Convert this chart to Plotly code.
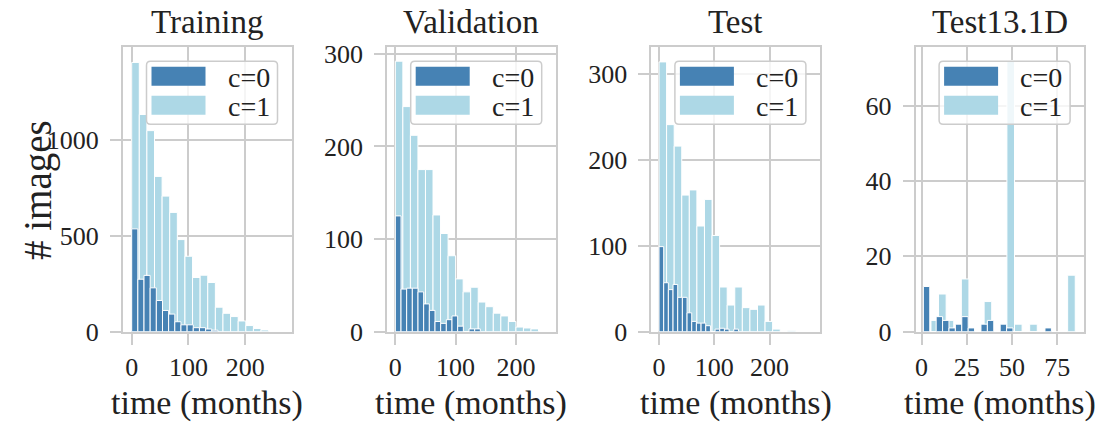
import numpy as np
import plotly.graph_objects as go

# ---------------- data ----------------
panel_titles = ["Training", "Validation", "Test", "Test13.1D"]
class_names = ["c=0", "c=1"]

# Training
train_c0_start, train_c0_width = 0.0, 10.85
train_c0_counts = [537, 274, 294, 229, 163, 111, 92, 52, 36, 36, 21, 21, 14, 8]
train_c1_start, train_c1_width = 0.0, 13.4
train_c1_counts = [1406, 1134, 1050, 811, 708, 623, 481, 394, 283, 295, 257, 128, 96, 79, 56, 32, 17, 9]

# Validation
val_c0_start, val_c0_width = 0.0, 9.4
val_c0_counts = [125, 46, 47, 47, 43, 30, 23, 11, 9, 13, 17, 6, 0, 3, 3]
val_c1_start, val_c1_width = 0.0, 12.5
val_c1_counts = [292, 243, 212, 175, 175, 126, 106, 82, 57, 43, 48, 32, 27, 20, 17, 11, 5, 4, 3]

# Test
test_c0_start, test_c0_width = 0.0, 8.45
test_c0_counts = [99, 57, 49, 55, 40, 40, 22, 12, 10, 10, 7, 0, 3, 4, 3, 0, 3]
test_c1_start, test_c1_width = 0.0, 13.7
test_c1_counts = [314, 241, 216, 159, 165, 123, 154, 112, 52, 31, 52, 28, 26, 31, 12, 3, 0, 1]

# Test13.1D
t13_c0_start, t13_c0_width = 1.0, 3.54
t13_c0_counts = [12, 0, 4, 3, 1, 2, 4, 1, 0, 2, 3, 0, 2, 1, 0, 0, 0, 0, 0, 1]
t13_c1_start, t13_c1_width = 1.0, 4.2
t13_c1_counts = [0, 3, 10, 3, 0, 14, 0, 0, 8, 0, 0, 72, 2, 0, 2, 0, 0, 0, 0, 15]

x_tickvals = [[0, 100, 200], [0, 100, 200], [0, 100, 200], [0, 25, 50, 75]]
y_tickvals = [[0, 500, 1000], [0, 100, 200, 300], [0, 100, 200, 300], [0, 20, 40, 60]]
x_ranges = [[-15.3, 281.5], [-13.5, 266.0], [-13.8, 291.0], [-3.3, 89.9]]
y_ranges = [[0, 1485], [0, 307], [0, 331], [0, 75.5]]

x_label = "time (months)"
y_label = "# images"

panels = [
    ((train_c0_start, train_c0_width, train_c0_counts), (train_c1_start, train_c1_width, train_c1_counts)),
    ((val_c0_start, val_c0_width, val_c0_counts), (val_c1_start, val_c1_width, val_c1_counts)),
    ((test_c0_start, test_c0_width, test_c0_counts), (test_c1_start, test_c1_width, test_c1_counts)),
    ((t13_c0_start, t13_c0_width, t13_c0_counts), (t13_c1_start, t13_c1_width, t13_c1_counts)),
]

# ---------------- styling / layout ----------------
W, H = 1100, 424
DARK = "#4682b4"
LIGHT = "#add8e6"
GRID = "#cccccc"
TXT = "#222222"
FONT = "Liberation Serif"

lefts = [123.0, 387.2, 651.4, 915.6]
pw = 168.5
top_px, bot_px = 47.3, 331.7


def px(x):
    return x / W


def py(y):
    return 1 - y / H


fig = go.Figure()
layout = dict(
    template="none",
    width=W, height=H, autosize=False,
    margin=dict(l=0, r=0, t=0, b=0, pad=0, autoexpand=False),
    paper_bgcolor="white", plot_bgcolor="white",
    barmode="overlay", showlegend=False,
    font=dict(family=FONT, color=TXT),
)

annotations = []
shapes = []

for i, (c0, c1) in enumerate(panels):
    xa = "x" if i == 0 else f"x{i+1}"
    ya = "y" if i == 0 else f"y{i+1}"
    # traces: c=1 behind, c=0 in front
    for (start, width, counts), color, name in ((c1, LIGHT, class_names[1]), (c0, DARK, class_names[0])):
        counts = np.asarray(counts, dtype=float)
        centers = start + width * (np.arange(len(counts)) + 0.5)
        fig.add_trace(go.Bar(
            x=centers, y=counts, width=width, name=name,
            marker=dict(color=color, line=dict(color="white", width=1)),
            xaxis=xa, yaxis=ya, hoverinfo="x+y",
        ))
    axcommon = dict(
        showline=True, mirror=True, linecolor=GRID, linewidth=2,
        showgrid=True, gridcolor=GRID, gridwidth=1.6,
        ticks="outside", ticklen=11, tickwidth=2, tickcolor=GRID,
        tickfont=dict(family=FONT, size=26, color=TXT),
        zeroline=False, automargin=False,
    )
    layout["xaxis" if i == 0 else f"xaxis{i+1}"] = dict(
        axcommon, domain=[px(lefts[i]), px(lefts[i] + pw)], anchor=ya,
        range=x_ranges[i], tickvals=x_tickvals[i], ticklabelstandoff=0,
    )
    layout["yaxis" if i == 0 else f"yaxis{i+1}"] = dict(
        axcommon, domain=[py(bot_px), py(top_px)], anchor=xa,
        range=y_ranges[i], tickvals=y_tickvals[i], ticklabelstandoff=6,
    )
    cx = lefts[i] + pw / 2
    # panel title
    annotations.append(dict(text=panel_titles[i], x=px(cx), y=py(22), xref="paper", yref="paper",
                            xanchor="center", yanchor="middle", showarrow=False,
                            font=dict(family=FONT, size=33, color=TXT)))
    # x axis title
    annotations.append(dict(text=x_label, x=px(cx), y=py(403), xref="paper", yref="paper",
                            xanchor="center", yanchor="middle", showarrow=False,
                            font=dict(family=FONT, size=34, color=TXT)))
    # legend box
    right = lefts[i] + pw - 14
    bl, bt = right - 131, top_px + 14
    br, bb = right, bt + 63
    r = 4
    path = (f"M {px(bl + r)},{py(bt)} L {px(br - r)},{py(bt)} Q {px(br)},{py(bt)} {px(br)},{py(bt + r)} "
            f"L {px(br)},{py(bb - r)} Q {px(br)},{py(bb)} {px(br - r)},{py(bb)} "
            f"L {px(bl + r)},{py(bb)} Q {px(bl)},{py(bb)} {px(bl)},{py(bb - r)} "
            f"L {px(bl)},{py(bt + r)} Q {px(bl)},{py(bt)} {px(bl + r)},{py(bt)} Z")
    shapes.append(dict(type="path", path=path, xref="paper", yref="paper", layer="above",
                       fillcolor="rgba(255,255,255,0.8)", line=dict(color=GRID, width=1.5)))
    for k, (color, name) in enumerate(((DARK, class_names[0]), (LIGHT, class_names[1]))):
        yt = bt + 5.5 + 29 * k
        shapes.append(dict(type="rect", xref="paper", yref="paper", layer="above",
                           x0=px(bl + 5), x1=px(bl + 59), y0=py(yt + 19), y1=py(yt),
                           fillcolor=color, line=dict(width=0)))
        annotations.append(dict(text=name, x=px(bl + 102), y=py(yt + 10.5), xref="paper", yref="paper",
                                xanchor="center", yanchor="middle", showarrow=False,
                                font=dict(family=FONT, size=28, color=TXT)))

annotations.append(dict(text=y_label, x=px(38), y=py(190), xref="paper", yref="paper",
                        xanchor="center", yanchor="middle", showarrow=False, textangle=-90,
                        font=dict(family=FONT, size=39, color=TXT)))

layout["annotations"] = annotations
layout["shapes"] = shapes
fig.update_layout(**layout)
fig.write_html("out.html")
